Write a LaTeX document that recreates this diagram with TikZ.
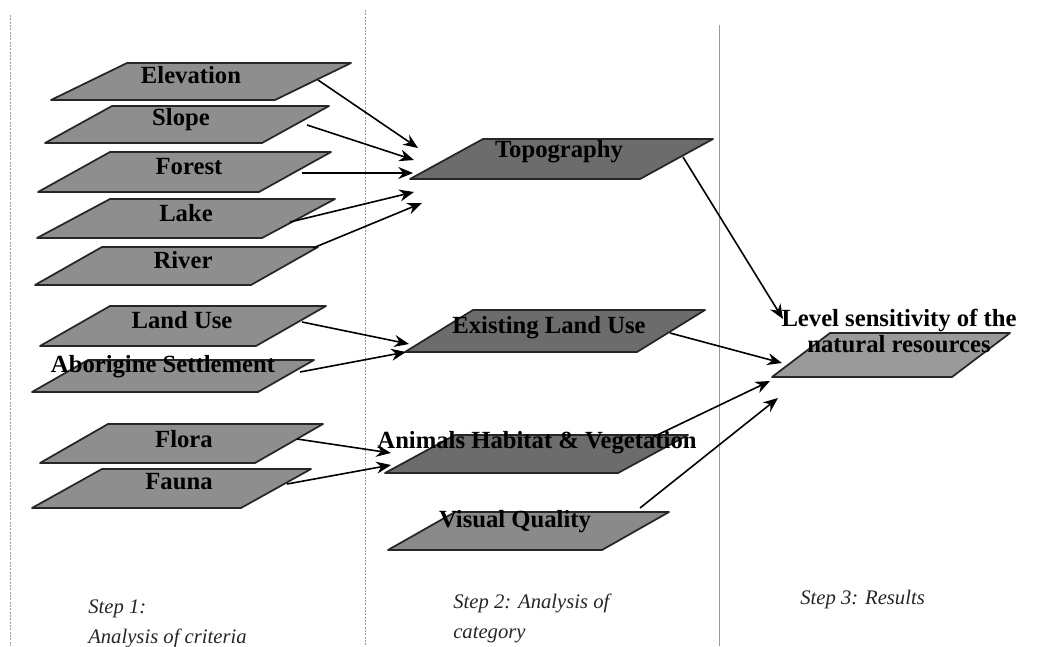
\documentclass[tikz,border=0pt]{standalone}
\usepackage{fontspec}
\setmainfont{Liberation Serif}
\usetikzlibrary{arrows.meta}
\definecolor{gA}{HTML}{8E8E8E}
\definecolor{gB}{HTML}{6C6C6C}
\definecolor{gC}{HTML}{8A8A8A}
\definecolor{gD}{HTML}{9A9A9A}
\definecolor{divline}{HTML}{9A9A9A}
\tikzset{
  plate/.style={draw=black!85, line width=1.3pt, line join=round},
  lbl/.style={font=\fontsize{18.5}{21}\selectfont\bfseries, text=black, inner sep=0pt},
  steplbl/.style={font=\fontsize{15.5}{22}\selectfont\itshape, text=black!85, inner sep=0pt, anchor=north west, align=left},
  link/.style={draw=black, line width=1.2pt, -{Stealth[length=11pt,width=9pt]}},
  divider/.style={draw=divline, line width=0.6pt}
}
% #1 fill, #2 bl x, #3 bottom y, #4 tl x, #5 top y, #6 width
\newcommand{\plateshape}[6]{%
  \path[plate, fill=#1] (#2,#3) -- (#4,#5) -- ({#4+#6},#5) -- ({#2+#6},#3) -- cycle;}
\begin{document}
\begin{tikzpicture}[x=0.75pt, y=-0.75pt]
\useasboundingbox (0,0) rectangle (1048,646);
\clip (0,0) rectangle (1048,646);
\fill[white] (0,0) rectangle (1048,646);
% dividers
\draw[divider, dash pattern=on 1.5pt off 1pt] (10,15) -- (10,646);
\draw[divider, dash pattern=on 1.5pt off 1pt] (365,10) -- (365,646);
\draw[divider] (719,25) -- (719,646);
% plates
\plateshape{gA}{51}{100}{127}{63}{224}
\plateshape{gA}{45}{143}{112}{106}{217}
\plateshape{gA}{38}{192}{110}{152}{221}
\plateshape{gA}{37}{238}{110}{199}{225}
\plateshape{gA}{35}{285}{102}{247}{216}
\plateshape{gA}{40}{346}{110}{306}{216}
\plateshape{gA}{32}{392}{88}{360}{226}
\plateshape{gA}{40}{463}{108}{424}{215}
\plateshape{gA}{32}{508}{102}{469}{209}
\plateshape{gB}{410}{179}{483}{139}{230}
\plateshape{gB}{405}{352}{473}{310}{232}
\plateshape{gB}{385}{473}{455}{435}{233}
\plateshape{gC}{388}{550}{455}{512}{214}
\plateshape{gD}{772}{377}{830}{333}{180}
% labels
\node[lbl] (elev) at (191,75) {Elevation};
\node[lbl] (slope) at (181,120) {Slope};
\node[lbl] (forest) at (189,167) {Forest};
\node[lbl] (lake) at (186,213) {Lake};
\node[lbl] (river) at (183,260) {River};
\node[lbl] (landuse) at (182,320) {Land Use};
\node[lbl] (abor) at (163,367) {Aborigine Settlement};
\node[lbl] (flora) at (184,439) {Flora};
\node[lbl] (fauna) at (179,482) {Fauna};
\node[lbl] (topo) at (559,152) {Topography};
\node[lbl] (exist) at (549,328) {Existing Land Use};
\node[lbl] (anim) at (537,443) {Animals Habitat \& Vegetation};
\node[lbl] (visual) at (515,522) {Visual Quality};
\node[lbl, align=center, font=\fontsize{18.5}{19}\selectfont\bfseries] (level) at (899,331) {Level sensitivity of the\\natural resources};
% step captions
\node[steplbl] (s1) at (88,600) {Step 1:\\Analysis of criteria};
\node[steplbl] (s2) at (453,594) {Step 2: Analysis of\\category};
\node[steplbl] (s3) at (800,590) {Step 3: Results};
% connector end points
\coordinate (elevO) at (318,80);
\coordinate (slopeO) at (307,125);
\coordinate (forestO) at (302,173);
\coordinate (lakeO) at (290,222);
\coordinate (riverO) at (313,248);
\coordinate (topoI1) at (418,148);
\coordinate (topoI2) at (414,160);
\coordinate (topoI3) at (413,173);
\coordinate (topoI4) at (414,192);
\coordinate (topoI5) at (422,203);
\coordinate (landO) at (302,322);
\coordinate (aborO) at (300,372);
\coordinate (existI1) at (409,344);
\coordinate (existI2) at (406,352);
\coordinate (floraO) at (297,439);
\coordinate (faunaO) at (287,484);
\coordinate (animI1) at (391,453);
\coordinate (animI2) at (391,465);
\coordinate (topoO) at (683,157);
\coordinate (existO) at (670,333);
\coordinate (animO) at (653,437);
\coordinate (visualO) at (640,508);
\coordinate (levelI1) at (783,319);
\coordinate (levelI2) at (782,363);
\coordinate (levelI3) at (770,381);
\coordinate (levelI4) at (778,398);
% connectors
\draw[link] (elevO) -- (topoI1);
\draw[link] (slopeO) -- (topoI2);
\draw[link] (forestO) -- (topoI3);
\draw[link] (lakeO) -- (topoI4);
\draw[link] (riverO) -- (topoI5);
\draw[link] (landO) -- (existI1);
\draw[link] (aborO) -- (existI2);
\draw[link] (floraO) -- (animI1);
\draw[link] (faunaO) -- (animI2);
\draw[link] (topoO) -- (levelI1);
\draw[link] (existO) -- (levelI2);
\draw[link] (animO) -- (levelI3);
\draw[link] (visualO) -- (levelI4);
\end{tikzpicture}
\end{document}
